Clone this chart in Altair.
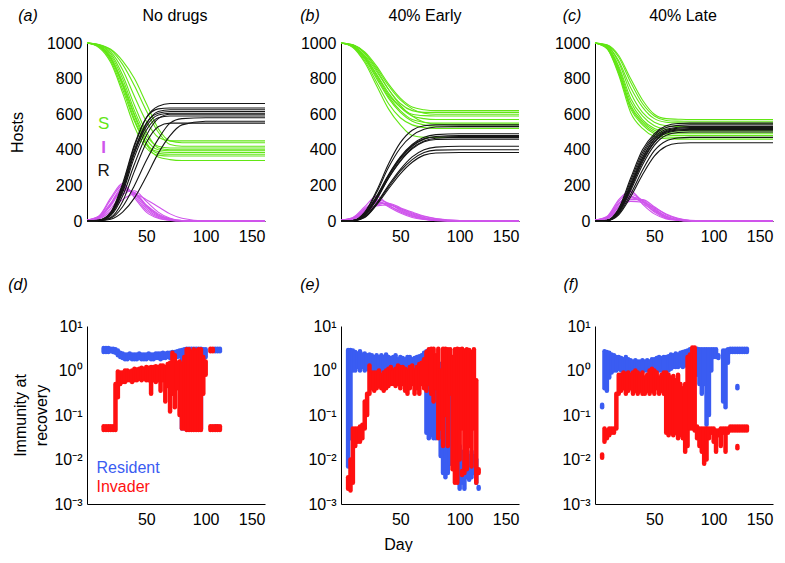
import altair as alt
import pandas as pd

FONT = "Liberation Sans"
GREEN = "#62e614"
MAGENTA = "#cf55ec"
BLACK = "#151515"
BLUE = "#3a5cf2"
RED = "#ff1010"

# ---------------- top row: S / I / R trajectories ----------------
DAYS = [0, 10, 20, 30, 40, 50, 60, 70, 80, 100, 150]

A_S = [
    [1000, 990, 950, 850, 700, 560, 470, 450, 450, 450, 450],
    [1000, 985, 930, 800, 620, 480, 420, 410, 410, 410, 410],
    [1000, 980, 900, 740, 560, 430, 390, 385, 385, 385, 385],
    [1000, 990, 960, 880, 760, 620, 500, 430, 420, 420, 420],
    [1000, 975, 890, 720, 530, 410, 370, 365, 365, 365, 365],
    [1000, 985, 920, 780, 600, 460, 400, 395, 395, 395, 395],
    [1000, 980, 910, 760, 570, 430, 360, 345, 340, 340, 340],
    [1000, 992, 965, 900, 800, 660, 520, 450, 440, 440, 440],
    [1000, 982, 915, 770, 590, 440, 380, 375, 375, 375, 375],
    [1000, 988, 940, 820, 650, 500, 410, 400, 400, 400, 400],
]
A_I = [
    [5, 20, 90, 180, 160, 80, 30, 10, 2, 0, 0],
    [5, 25, 120, 200, 140, 60, 20, 5, 0, 0, 0],
    [5, 15, 70, 150, 170, 110, 50, 15, 3, 0, 0],
    [5, 22, 100, 190, 150, 70, 25, 8, 1, 0, 0],
    [5, 12, 55, 120, 150, 120, 80, 40, 15, 0, 0],
    [5, 18, 85, 170, 160, 90, 40, 12, 2, 0, 0],
    [5, 28, 130, 210, 130, 50, 15, 3, 0, 0, 0],
    [5, 20, 95, 175, 155, 85, 35, 10, 1, 0, 0],
]
A_R = [
    [0, 2, 20, 110, 280, 440, 530, 550, 550, 550, 550],
    [0, 3, 35, 160, 360, 510, 580, 590, 590, 590, 590],
    [0, 4, 45, 190, 400, 550, 605, 615, 615, 615, 615],
    [0, 2, 15, 80, 200, 340, 460, 550, 575, 580, 580],
    [0, 5, 50, 210, 430, 580, 630, 635, 635, 635, 635],
    [0, 3, 40, 170, 380, 530, 595, 605, 605, 605, 605],
    [0, 4, 45, 200, 420, 580, 645, 660, 660, 660, 660],
    [0, 1, 10, 50, 130, 250, 380, 480, 540, 560, 560],
    [0, 4, 42, 180, 390, 545, 615, 625, 625, 625, 625],
    [0, 3, 30, 140, 320, 480, 575, 600, 600, 600, 600],
]

B_S = [
    [1000, 990, 950, 870, 770, 690, 640, 625, 620, 620, 620],
    [1000, 985, 930, 840, 740, 660, 620, 610, 610, 610, 610],
    [1000, 988, 945, 860, 760, 680, 630, 605, 600, 600, 600],
    [1000, 980, 920, 820, 710, 640, 600, 592, 590, 590, 590],
    [1000, 985, 925, 825, 720, 640, 590, 575, 570, 570, 570],
    [1000, 982, 915, 810, 700, 620, 570, 555, 550, 550, 550],
    [1000, 990, 940, 850, 740, 650, 590, 555, 545, 540, 540],
    [1000, 980, 910, 800, 690, 610, 560, 540, 532, 530, 530],
    [1000, 978, 900, 780, 660, 580, 540, 525, 520, 520, 520],
    [1000, 975, 890, 760, 630, 540, 480, 470, 470, 470, 470],
]
B_I = [
    [5, 15, 60, 120, 100, 60, 30, 15, 5, 0, 0],
    [5, 20, 80, 140, 90, 50, 25, 10, 3, 0, 0],
    [5, 12, 50, 100, 95, 70, 40, 20, 8, 1, 0],
    [5, 18, 70, 110, 85, 55, 30, 12, 4, 0, 0],
    [5, 10, 40, 85, 90, 70, 45, 25, 12, 2, 0],
    [5, 14, 55, 105, 95, 65, 35, 18, 6, 0, 0],
    [5, 16, 65, 115, 80, 45, 20, 8, 2, 0, 0],
    [5, 11, 45, 90, 100, 75, 50, 28, 14, 3, 0],
]
B_R = [
    [0, 3, 50, 170, 320, 440, 510, 535, 540, 540, 540],
    [0, 3, 45, 160, 300, 410, 480, 515, 528, 530, 530],
    [0, 2, 40, 140, 260, 360, 430, 470, 485, 490, 490],
    [0, 2, 35, 130, 250, 350, 420, 460, 475, 480, 480],
    [0, 2, 38, 135, 255, 355, 425, 462, 472, 475, 475],
    [0, 2, 30, 120, 240, 340, 410, 450, 465, 470, 470],
    [0, 2, 33, 125, 240, 335, 405, 445, 458, 460, 460],
    [0, 1, 25, 100, 200, 290, 360, 400, 415, 420, 420],
    [0, 1, 22, 95, 190, 280, 345, 385, 398, 400, 400],
    [0, 1, 20, 90, 180, 265, 330, 370, 382, 385, 385],
]

C_S = [
    [1000, 990, 930, 800, 680, 600, 575, 572, 570, 570, 570],
    [1000, 988, 920, 780, 660, 590, 565, 561, 560, 560, 560],
    [1000, 985, 900, 750, 640, 575, 555, 551, 550, 550, 550],
    [1000, 985, 890, 720, 610, 555, 535, 531, 530, 530, 530],
    [1000, 980, 870, 690, 590, 535, 515, 511, 510, 510, 510],
    [1000, 978, 860, 670, 570, 520, 503, 500, 500, 500, 500],
    [1000, 975, 850, 650, 560, 510, 493, 490, 490, 490, 490],
    [1000, 972, 840, 640, 550, 500, 483, 480, 480, 480, 480],
    [1000, 970, 830, 630, 540, 490, 472, 470, 470, 470, 470],
    [1000, 968, 820, 610, 520, 475, 462, 460, 460, 460, 460],
]
C_I = [
    [5, 22, 110, 165, 110, 50, 15, 4, 0, 0, 0],
    [5, 18, 95, 150, 115, 60, 20, 6, 1, 0, 0],
    [5, 15, 80, 135, 120, 70, 28, 8, 2, 0, 0],
    [5, 20, 100, 140, 100, 55, 20, 5, 1, 0, 0],
    [5, 12, 65, 120, 120, 80, 35, 12, 3, 0, 0],
    [5, 16, 85, 130, 110, 65, 25, 7, 1, 0, 0],
    [5, 25, 120, 170, 95, 40, 12, 3, 0, 0, 0],
    [5, 14, 75, 110, 105, 75, 40, 15, 4, 0, 0],
]
C_R = [
    [0, 4, 70, 240, 400, 490, 535, 548, 550, 550, 550],
    [0, 4, 65, 225, 385, 480, 525, 537, 540, 540, 540],
    [0, 3, 60, 210, 370, 470, 515, 527, 530, 530, 530],
    [0, 3, 55, 200, 355, 460, 508, 522, 525, 525, 525],
    [0, 3, 55, 195, 350, 455, 503, 517, 520, 520, 520],
    [0, 3, 50, 185, 340, 445, 498, 512, 515, 515, 515],
    [0, 3, 48, 180, 330, 440, 493, 507, 510, 510, 510],
    [0, 2, 45, 170, 315, 425, 482, 497, 500, 500, 500],
    [0, 2, 40, 150, 285, 395, 450, 466, 470, 470, 470],
    [0, 2, 35, 135, 260, 365, 420, 437, 440, 440, 440],
]

SIR_TEXT = ["S", "R"]
SIR_DAY = [14, 14]
SIR_VAL = [544, 280]
SIR_COLOR = [GREEN, BLACK]
I_TEXT = ["I"]
I_DAY = [14]
I_VAL = [412]

TOP_TITLES = ["No drugs", "40% Early", "40% Late"]
TOP_LETTERS = ["(a)", "(b)", "(c)"]
BOTTOM_LETTERS = ["(d)", "(e)", "(f)"]

# ---------------- bottom row: immunity at recovery ----------------
D_RES_DAY = [14, 16, 18, 20, 22, 24, 26, 28, 30, 32,
             34, 36, 38, 40, 42, 44, 46, 48, 50, 52,
             54, 56, 58, 60, 62, 64, 66, 68, 70, 72,
             74, 76, 78, 80, 82, 84, 86, 88, 90, 92,
             94, 96, 98, 100, 108, 110, 112, 108, 110]
D_RES_LO = [2.6, 2.6, 2.6, 2.7, 2.6, 2.5, 2.2, 2.0, 1.9, 1.8,
            1.8, 1.9, 1.8, 1.8, 1.8, 1.9, 1.8, 1.8, 1.8, 1.9,
            1.8, 1.8, 1.9, 1.9, 1.8, 1.9, 1.9, 2.0, 1.9, 2.0,
            2.0, 2.0, 2.1, 0.05, 0.05, 0.05, 0.05, 0.05, 0.05, 0.05,
            0.05, 0.05, 1.5, 2.0, 2.7, 2.7, 2.7, 0.047, 0.047]
D_RES_HI = [3.2, 3.2, 3.2, 3.1, 3.1, 3.0, 2.8, 2.5, 2.4, 2.3,
            2.3, 2.4, 2.3, 2.3, 2.3, 2.4, 2.3, 2.3, 2.3, 2.4,
            2.3, 2.3, 2.4, 2.4, 2.4, 2.5, 2.4, 2.5, 2.5, 2.6,
            2.6, 2.7, 2.8, 2.9, 3.0, 3.1, 3.1, 3.1, 3.1, 3.1,
            3.1, 3.1, 3.0, 3.0, 3.1, 3.1, 3.1, 0.055, 0.055]

D_INV_DAY = [14, 16, 18, 20, 22, 24, 26, 28, 30, 32,
             34, 36, 38, 40, 42, 44, 46, 48, 50, 52,
             54, 56, 58, 60, 62, 64, 66, 68, 70, 72,
             74, 76, 78, 80, 82, 84, 86, 88, 90, 92,
             94, 96, 98, 100, 104, 106, 104, 106, 108, 110, 112]
D_INV_LO = [0.046, 0.046, 0.046, 0.046, 0.046, 0.046, 0.25, 0.5, 0.55, 0.55,
            0.6, 0.6, 0.55, 0.6, 0.6, 0.65, 0.6, 0.65, 0.6, 0.6,
            0.3, 0.6, 0.55, 0.6, 0.35, 0.6, 0.2, 0.45, 0.12, 0.3,
            0.15, 0.4, 0.1, 0.05, 0.05, 0.046, 0.046, 0.046, 0.046, 0.046,
            0.046, 0.046, 0.3, 0.8, 2.7, 2.7, 0.046, 0.046, 0.046, 0.046, 0.046]
D_INV_HI = [0.056, 0.056, 0.056, 0.056, 0.056, 0.5, 0.95, 0.9, 0.9, 1.0,
            1.0, 0.95, 1.0, 1.1, 1.05, 1.1, 1.15, 1.1, 1.2, 1.15,
            1.2, 1.2, 1.25, 1.2, 1.3, 1.3, 1.2, 1.4, 1.5, 2.5,
            2.2, 1.5, 1.6, 1.4, 2.0, 3.0, 3.0, 2.6, 3.0, 2.8,
            3.0, 3.0, 2.0, 1.6, 3.1, 3.1, 0.056, 0.056, 0.056, 0.056, 0.056]

E_RES_DAY = [6, 8, 10, 12, 14, 16, 18, 20, 22, 24,
             26, 28, 30, 32, 34, 36, 38, 40, 42, 44,
             46, 48, 50, 52, 54, 56, 58, 60, 62, 64,
             66, 68, 70, 72, 74, 76, 78, 80, 82, 84,
             86, 88, 90, 92, 94, 96, 98, 100, 102, 104,
             106, 108, 110, 112, 114, 116]
E_RES_LO = [0.007, 0.03, 1.0, 1.0, 1.2, 1.0, 1.2, 1.0, 1.1, 1.0,
            1.0, 1.0, 1.1, 1.0, 1.0, 0.9, 1.0, 1.0, 0.9, 1.0,
            1.0, 0.9, 1.0, 1.0, 0.9, 1.0, 1.0, 0.9, 0.9, 1.0,
            0.8, 0.7, 0.6, 0.04, 0.03, 0.035, 0.03, 0.03, 0.04, 0.012,
            0.005, 0.004, 0.005, 0.008, 0.01, 0.006, 0.004, 0.0022, 0.003, 0.0022,
            0.004, 0.0035, 0.004, 0.005, 0.003, 0.0022]
E_RES_HI = [2.9, 2.9, 2.8, 2.6, 2.4, 2.7, 2.3, 2.4, 2.2, 2.3,
            2.2, 2.0, 2.2, 2.0, 2.2, 2.0, 2.3, 2.0, 1.9, 2.0,
            2.2, 1.8, 2.0, 1.9, 1.8, 2.0, 2.0, 1.8, 1.9, 2.0,
            2.1, 2.2, 2.5, 2.7, 2.8, 2.5, 2.0, 1.8, 1.5, 1.4,
            1.2, 1.0, 0.8, 0.6, 0.5, 0.4, 0.3, 0.02, 0.015, 0.01,
            0.02, 0.012, 0.015, 0.012, 0.01, 0.0024]

E_INV_DAY = [6, 8, 10, 12, 14, 16, 18, 20, 22, 24,
             26, 28, 30, 32, 34, 36, 38, 40, 42, 44,
             46, 48, 50, 52, 54, 56, 58, 60, 62, 64,
             66, 68, 70, 72, 74, 76, 78, 80, 82, 84,
             86, 88, 90, 92, 94, 96, 98, 100, 102, 104,
             106, 108, 110, 112, 114, 102, 116]
E_INV_LO = [0.0022, 0.002, 0.003, 0.02, 0.025, 0.025, 0.03, 0.05, 0.1, 0.3,
            0.4, 0.35, 0.4, 0.45, 0.4, 0.35, 0.4, 0.45, 0.5, 0.5,
            0.45, 0.5, 0.4, 0.5, 0.35, 0.3, 0.4, 0.5, 0.3, 0.4,
            0.3, 0.5, 0.4, 0.35, 0.5, 0.3, 0.2, 0.4, 0.03, 0.05,
            0.02, 0.1, 0.02, 0.3, 0.006, 0.003, 0.003, 0.01, 0.05, 0.005,
            0.006, 0.02, 0.007, 0.05, 0.003, 0.0045, 0.005]
E_INV_HI = [0.004, 0.01, 0.05, 0.05, 0.05, 0.055, 0.06, 0.2, 0.3, 1.3,
            0.9, 0.9, 0.9, 1.0, 0.8, 0.9, 1.0, 1.1, 1.2, 1.0,
            1.1, 1.3, 1.2, 1.2, 1.1, 1.0, 1.2, 1.3, 1.0, 1.2,
            1.4, 1.5, 1.8, 2.6, 3.0, 3.1, 3.1, 2.2, 3.1, 1.0,
            3.1, 3.1, 3.0, 3.0, 2.0, 3.0, 3.1, 3.0, 3.1, 2.8,
            3.0, 2.9, 2.6, 3.0, 0.6, 0.0055, 0.006]

F_RES_DAY = [6, 8, 10, 12, 14, 16, 18, 20, 22, 24,
             26, 28, 30, 32, 34, 36, 38, 40, 42, 44,
             46, 48, 50, 52, 54, 56, 58, 60, 62, 64,
             66, 68, 70, 72, 74, 76, 78, 80, 82, 84,
             86, 88, 90, 92, 94, 96, 98, 100, 102, 104,
             108, 110, 112, 114, 116, 118, 120, 122, 124, 126,
             128, 120]
F_RES_LO = [0.15, 0.4, 0.35, 0.7, 0.9, 1.0, 1.0, 1.1, 1.0, 1.0,
            1.0, 1.0, 1.0, 0.9, 1.0, 1.0, 0.9, 1.0, 1.0, 1.0,
            1.0, 1.0, 1.0, 1.1, 1.0, 1.0, 1.1, 1.0, 1.0, 1.1,
            1.2, 1.2, 1.2, 1.3, 1.2, 1.3, 1.5, 2.0, 2.0, 2.0,
            0.8, 0.5, 0.3, 0.5, 0.06, 0.1, 1.0, 2.0, 2.0, 1.9,
            0.2, 0.15, 1.5, 2.6, 2.6, 2.6, 2.6, 2.6, 2.6, 2.6,
            2.6, 0.4]
F_RES_HI = [0.17, 2.7, 2.6, 2.5, 2.3, 2.2, 2.0, 2.0, 1.9, 1.8,
            2.0, 1.8, 1.7, 1.6, 1.7, 1.6, 1.6, 1.7, 1.6, 1.7,
            1.6, 1.8, 1.8, 1.9, 2.0, 1.9, 2.0, 2.0, 2.1, 2.3,
            2.2, 2.4, 2.3, 2.5, 2.6, 2.7, 2.8, 3.0, 3.0, 3.1,
            3.1, 3.0, 3.0, 3.0, 3.0, 3.0, 3.0, 3.0, 3.0, 2.2,
            2.8, 2.8, 3.0, 3.1, 3.1, 3.1, 3.1, 3.1, 3.1, 3.1,
            3.1, 0.45]

F_INV_DAY = [6, 8, 10, 12, 14, 16, 18, 20, 22, 24,
             26, 28, 30, 32, 34, 36, 38, 40, 42, 44,
             46, 48, 50, 52, 54, 56, 58, 60, 62, 64,
             66, 68, 70, 72, 74, 76, 78, 80, 82, 84,
             86, 88, 90, 92, 94, 96, 98, 100, 102, 104,
             106, 108, 110, 112, 114, 116, 118, 120, 122, 124,
             126, 128, 120]
F_INV_LO = [0.011, 0.025, 0.03, 0.035, 0.04, 0.04, 0.05, 0.3, 0.35, 0.4,
            0.3, 0.35, 0.4, 0.3, 0.35, 0.3, 0.35, 0.3, 0.3, 0.35,
            0.3, 0.35, 0.3, 0.4, 0.3, 0.35, 0.3, 0.04, 0.035, 0.04,
            0.035, 0.04, 0.03, 0.035, 0.03, 0.015, 0.02, 0.05, 0.05, 0.045,
            0.03, 0.02, 0.015, 0.008, 0.01, 0.03, 0.04, 0.025, 0.015, 0.035,
            0.02, 0.04, 0.015, 0.04, 0.045, 0.045, 0.045, 0.045, 0.045, 0.045,
            0.045, 0.045, 0.018]
F_INV_HI = [0.013, 0.05, 0.045, 0.05, 0.05, 0.05, 0.3, 0.8, 0.8, 0.9,
            0.85, 0.9, 0.8, 0.9, 1.0, 0.9, 0.8, 0.9, 0.7, 0.8,
            1.0, 1.1, 1.0, 0.9, 0.7, 0.8, 0.9, 0.9, 0.8, 0.7,
            0.75, 0.6, 0.8, 0.5, 0.4, 0.5, 2.0, 2.3, 3.3, 3.3,
            0.055, 0.05, 0.05, 0.05, 0.05, 0.05, 0.05, 0.05, 0.045, 0.045,
            0.05, 0.05, 0.05, 0.05, 0.055, 0.055, 0.055, 0.055, 0.055, 0.055,
            0.055, 0.055, 0.02]

LEGEND_TEXT = ["Resident", "Invader"]
LEGEND_DAY = [8, 8]
LEGEND_VAL = [0.0063, 0.0024]
LEGEND_COLOR = [BLUE, RED]

# ---------------- layout constants ----------------
W = 178
H = 178
FS = 16
LOG_TICKS = [0.001, 0.01, 0.1, 1, 10]
LOG_LABEL = ("'10' + (datum.value > 5 ? '\u00b9' : datum.value > 0.5 ? '\u2070' : "
             "datum.value > 0.05 ? '\u207b\u00b9' : datum.value > 0.005 ? '\u207b\u00b2' : '\u207b\u00b3')")


def top_df(S, I, R):
    rows = []
    for name, runs in (("S", S), ("I", I), ("R", R)):
        for k, run in enumerate(runs):
            for d, v in zip(DAYS, run):
                rows.append({"series": name, "run": f"{name}{k}", "day": d, "value": v})
    return pd.DataFrame(rows)


def x_enc(title_kwargs=None):
    kw = dict(values=[50, 100, 150], labelPadding=7)
    sc = alt.Scale(domain=[0, 150], nice=False, zero=False)
    if title_kwargs:
        kw.update(title_kwargs)
        return alt.X("day:Q", scale=sc, axis=alt.Axis(**kw))
    return alt.X("day:Q", scale=sc, axis=alt.Axis(**kw), title=None)


def text_layer(txt, dx, dy, italic, baseline="middle"):
    kw = dict(font=FONT, fontSize=FS, color="black", baseline=baseline, align="center")
    if italic:
        kw["fontStyle"] = "italic"
    return alt.Chart(pd.DataFrame({"t": [txt]})).mark_text(**kw).encode(
        text="t:N", x=alt.value(dx), y=alt.value(dy))


def top_panel(idx, S, I, R):
    df = top_df(S, I, R)
    ykw = dict(values=[0, 200, 400, 600, 800, 1000], labelPadding=5, format="d")
    ysc = alt.Scale(domain=[0, 1000], nice=False)
    if idx == 0:
        y = alt.Y("value:Q", scale=ysc,
                  axis=alt.Axis(title="Hosts", titleX=-70, titleY=H / 2, titleAngle=270,
                                titleAlign="center", titleBaseline="middle", **ykw))
    else:
        y = alt.Y("value:Q", scale=ysc, axis=alt.Axis(**ykw), title=None)
    x = x_enc()
    base = alt.Chart(df).encode(x=x, y=y, detail="run:N")
    layers = [
        base.transform_filter(alt.datum.series == "S").mark_line(
            color=GREEN, strokeWidth=1.1, interpolate="monotone"),
        base.transform_filter(alt.datum.series == "I").mark_line(
            color=MAGENTA, strokeWidth=1.1, interpolate="monotone"),
        base.transform_filter(alt.datum.series == "R").mark_line(
            color=BLACK, strokeWidth=1.1, interpolate="monotone"),
    ]
    if idx == 0:
        lab = pd.DataFrame({"t": SIR_TEXT, "day": SIR_DAY, "value": SIR_VAL, "c": SIR_COLOR})
        layers.append(alt.Chart(lab).mark_text(font=FONT, fontSize=17, align="center",
                                               baseline="middle").encode(
            x=x, y=y, text="t:N", color=alt.Color("c:N", scale=None)))
        ilab = pd.DataFrame({"t": I_TEXT, "day": I_DAY, "value": I_VAL})
        layers.append(alt.Chart(ilab).mark_text(font=FONT, fontSize=17, fontWeight="bold",
                                                align="center", baseline="middle",
                                                color=MAGENTA).encode(x=x, y=y, text="t:N"))
    letter_dx = [-59, -31, -23]
    title_dx = [88, 84, 88]
    layers.append(text_layer(TOP_LETTERS[idx], letter_dx[idx], -27, True))
    layers.append(text_layer(TOP_TITLES[idx], title_dx[idx], -22, False, "alphabetic"))
    return alt.layer(*layers).properties(width=W, height=H)


def bottom_df(rd, rl, rh, idd, il, ih):
    assert len(rd) == len(rl) == len(rh)
    assert len(idd) == len(il) == len(ih)
    rows = [{"s": "res", "day": d, "lo": a, "hi": b} for d, a, b in zip(rd, rl, rh)]
    rows += [{"s": "inv", "day": d, "lo": a, "hi": b} for d, a, b in zip(idd, il, ih)]
    return pd.DataFrame(rows)


def bottom_panel(idx, df):
    ykw = dict(values=LOG_TICKS, labelExpr=LOG_LABEL, labelPadding=5)
    yscale = alt.Scale(type="log", domain=[0.001, 10], nice=False)
    if idx == 0:
        y = alt.Y("lo:Q", scale=yscale,
                  axis=alt.Axis(title=["Immunity at", "recovery"], titleX=-67, titleY=H / 2,
                                titleAngle=270, titleAlign="center", titleBaseline="middle",
                                titleLineHeight=21, **ykw))
    else:
        y = alt.Y("lo:Q", scale=yscale, axis=alt.Axis(**ykw), title=None)
    if idx == 1:
        x = x_enc(dict(title="Day", titleX=57, titleY=45, titleAlign="center",
                       titleBaseline="alphabetic"))
    else:
        x = x_enc()
    base = alt.Chart(df).encode(x=x, y=y, y2="hi:Q")
    layers = [
        base.transform_filter(alt.datum.s == "res").mark_rule(
            color=BLUE, strokeWidth=4.5, strokeCap="round"),
        base.transform_filter(alt.datum.s == "inv").mark_rule(
            color=RED, strokeWidth=4.5, strokeCap="round"),
    ]
    if idx == 0:
        lg = pd.DataFrame({"t": LEGEND_TEXT, "day": LEGEND_DAY, "lo": LEGEND_VAL, "c": LEGEND_COLOR})
        layers.append(alt.Chart(lg).mark_text(font=FONT, fontSize=FS, align="left",
                                              baseline="middle").encode(
            x=x, y=y, text="t:N", color=alt.Color("c:N", scale=None)))
    dxs = [-69, -31, -24]
    layers.append(text_layer(BOTTOM_LETTERS[idx], dxs[idx], -41, True))
    return alt.layer(*layers).properties(width=W, height=H)


panels = [
    top_panel(0, A_S, A_I, A_R),
    top_panel(1, B_S, B_I, B_R),
    top_panel(2, C_S, C_I, C_R),
    bottom_panel(0, bottom_df(D_RES_DAY, D_RES_LO, D_RES_HI, D_INV_DAY, D_INV_LO, D_INV_HI)),
    bottom_panel(1, bottom_df(E_RES_DAY, E_RES_LO, E_RES_HI, E_INV_DAY, E_INV_LO, E_INV_HI)),
    bottom_panel(2, bottom_df(F_RES_DAY, F_RES_LO, F_RES_HI, F_INV_DAY, F_INV_LO, F_INV_HI)),
]

chart = alt.concat(*panels, columns=3, spacing={"row": 105, "column": 76}, bounds="flush").properties(
    padding=0
).configure_axis(
    grid=False, ticks=False, domainColor="black", domainWidth=1,
    labelFont=FONT, labelFontSize=FS, labelColor="black",
    titleFont=FONT, titleFontSize=FS, titleFontWeight="normal", titleColor="black",
).configure_view(strokeWidth=0)

chart.save("out.html", embed_options={"renderer": "svg", "actions": False})
